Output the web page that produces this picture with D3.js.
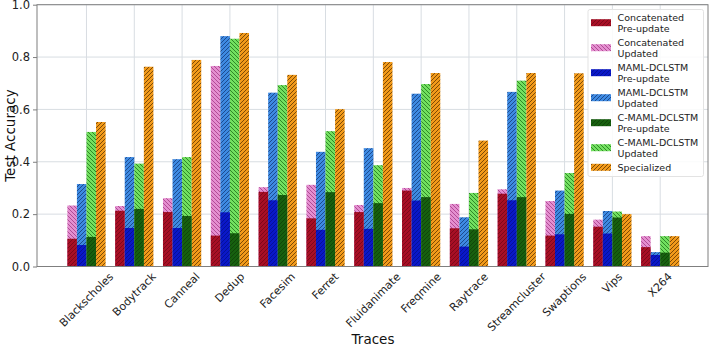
<!DOCTYPE html>
<html><head><meta charset="utf-8">
<script src="https://cdn.jsdelivr.net/npm/d3@7"></script>
<style>body{margin:0;background:#fff}svg{font-family:"DejaVu Sans",sans-serif}</style>
</head><body><svg id="c" width="710" height="348"></svg>
<script>
const categories = ["Blackscholes","Bodytrack","Canneal","Dedup","Facesim","Ferret","Fluidanimate","Freqmine","Raytrace","Streamcluster","Swaptions","Vips","X264"];
const concatPre  = [0.106,0.213,0.208,0.118,0.285,0.184,0.208,0.290,0.146,0.278,0.118,0.152,0.074];
const concatUpd  = [0.233,0.231,0.261,0.766,0.303,0.312,0.235,0.300,0.239,0.295,0.250,0.179,0.116];
const mamlPre    = [0.082,0.147,0.147,0.207,0.253,0.140,0.144,0.252,0.076,0.253,0.123,0.126,0.044];
const mamlUpd    = [0.315,0.418,0.410,0.880,0.664,0.438,0.452,0.660,0.188,0.667,0.290,0.212,0.055];
const cmamlPre   = [0.113,0.220,0.193,0.127,0.273,0.284,0.242,0.265,0.142,0.265,0.201,0.187,0.053];
const cmamlUpd   = [0.514,0.393,0.418,0.870,0.693,0.517,0.387,0.697,0.281,0.710,0.357,0.210,0.116];
const specialized= [0.552,0.763,0.789,0.892,0.732,0.601,0.781,0.739,0.481,0.739,0.738,0.200,0.116];
const yTicks = [0.0,0.2,0.4,0.6,0.8,1.0];

const svg = d3.select("#c");
const x = d3.scaleLinear().domain([-1.035, 13.0]).range([37, 708]);
const y = d3.scaleLinear().domain([0, 1]).range([266.5, 4.7]);
const bw = 0.2;

const series = [
  {name:["Concatenated","Pre-update"], vals:concatPre, slot:0, fill:"#a80f25", hatch:"#4a000c", dir:"/", op:0.45},
  {name:["Concatenated","Updated"], vals:concatUpd, slot:0, fill:"#e48fd0", hatch:"#a8408a", dir:"\\", op:0.85},
  {name:["MAML-DCLSTM","Pre-update"], vals:mamlPre, slot:1, fill:"#0a18c8", hatch:"#000660", dir:"/", op:0.45},
  {name:["MAML-DCLSTM","Updated"], vals:mamlUpd, slot:1, fill:"#3e8ae2", hatch:"#163f80", dir:"/", op:0.85},
  {name:["C-MAML-DCLSTM","Pre-update"], vals:cmamlPre, slot:2, fill:"#17600f", hatch:"#062503", dir:"/", op:0.45},
  {name:["C-MAML-DCLSTM","Updated"], vals:cmamlUpd, slot:2, fill:"#72e060", hatch:"#237a1c", dir:"\\", op:0.85},
  {name:["Specialized"], vals:specialized, slot:3, fill:"#f29a1a", hatch:"#6a3c00", dir:"/", op:0.85}
];
const drawOrder = [1,3,5,6,0,2,4];

const defs = svg.append("defs");
series.forEach((s,i)=>{
  const p = defs.append("pattern").attr("id","h"+i).attr("patternUnits","userSpaceOnUse")
    .attr("width",4).attr("height",4);
  p.append("rect").attr("width",4).attr("height",4).attr("fill",s.fill);
  const d = s.dir==="/" ? "M-1,1 l2,-2 M0,4 l4,-4 M3,5 l2,-2" : "M-1,3 l2,2 M0,0 l4,4 M3,-1 l2,2";
  p.append("path").attr("d",d).attr("stroke",s.hatch).attr("stroke-width",1).attr("stroke-opacity",s.op);
});

// grid
const g = svg.append("g");
yTicks.forEach(t=>{
  g.append("line").attr("x1",37).attr("x2",708).attr("y1",y(t)).attr("y2",y(t))
   .attr("stroke","#d8dde2").attr("stroke-width",1);
});
categories.forEach((c,i)=>{
  g.append("line").attr("x1",x(i)).attr("x2",x(i)).attr("y1",y(0)).attr("y2",y(1))
   .attr("stroke","#d8dde2").attr("stroke-width",1);
});

// bars
drawOrder.forEach(si=>{
  const s = series[si];
  svg.append("g").selectAll("rect").data(s.vals).join("rect")
    .attr("x",(d,i)=>x(i+(s.slot-2)*bw))
    .attr("width",x(bw)-x(0))
    .attr("y",d=>y(d))
    .attr("height",d=>y(0)-y(d))
    .attr("fill","url(#h"+si+")");
});

// spines
svg.append("rect").attr("x",37).attr("y",y(1)).attr("width",708-37).attr("height",y(0)-y(1))
  .attr("fill","none").attr("stroke","#7f7f7f").attr("stroke-width",1);

// y axis ticks
const ya = svg.append("g").attr("transform","translate(37,0)")
  .call(d3.axisLeft(y).tickValues(yTicks).tickFormat(d3.format(".1f")).tickSize(4).tickPadding(3));
ya.select(".domain").remove();
ya.selectAll("line").attr("stroke","#7f7f7f");
ya.selectAll("text").attr("font-size","11.5px").attr("fill","#222").attr("font-family","DejaVu Sans");

// x tick labels rotated 45, bbox centered on tick
const xl = svg.append("g");
categories.forEach((c,i)=>{
  const fs = 11;
  const t = xl.append("text").text(c).attr("font-size",fs+"px").attr("fill","#222")
    .attr("text-anchor","middle").attr("dominant-baseline","central");
  const w = t.node().getComputedTextLength();
  const half = (w+fs)*Math.SQRT1_2/2;
  t.attr("transform",`translate(${x(i)},${271 + half}) rotate(-45)`);
});

svg.append("text").text("Test Accuracy").attr("font-size","13.5px").attr("fill","#111")
  .attr("text-anchor","middle").attr("transform",`translate(15,${y(0.5)}) rotate(-90)`);
svg.append("text").text("Traces").attr("font-size","13.5px").attr("fill","#111")
  .attr("text-anchor","middle").attr("x",373).attr("y",344);

// legend
const lg = svg.append("g");
lg.append("rect").attr("x",588).attr("y",9.5).attr("width",115.5).attr("height",167).attr("rx",2)
  .attr("fill","#fff").attr("fill-opacity",0.85).attr("stroke","#e3e3e3");
let yy = 17.3;
series.forEach((s,i)=>{
  const lines = s.name;
  const top = yy;
  const mid = lines.length===2 ? top + 5.4 : top;
  lg.append("rect").attr("x",591).attr("y",mid-3.5).attr("width",20).attr("height",7)
    .attr("fill","url(#h"+i+")");
  lines.forEach((ln,k)=>{
    lg.append("text").text(ln).attr("x",617.5).attr("y",top+k*10.7)
      .attr("dominant-baseline","central").attr("font-size","9.5px").attr("fill","#222");
  });
  yy += 25;
});
</script></body></html>
